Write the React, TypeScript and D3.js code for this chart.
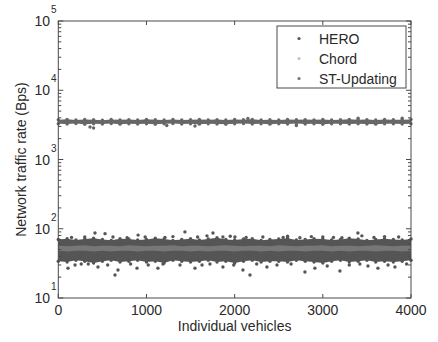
import React from "react";
import * as d3 from "d3";

// Vehicle ids at which the band envelopes are sampled
const vehicleIds = [
  0, 100, 200, 300, 400, 500, 600, 700, 800, 900, 1000, 1100, 1200, 1300, 1400,
  1500, 1600, 1700, 1800, 1900, 2000, 2100, 2200, 2300, 2400, 2500, 2600, 2700,
  2800, 2900, 3000, 3100, 3200, 3300, 3400, 3500, 3600, 3700, 3800, 3900, 4000,
];

// HERO: dense band envelope (Bps)
const heroHigh = [
  70, 72, 69, 71, 73, 70, 68, 72, 71, 69, 70, 73, 71, 68, 70, 72, 69, 71, 74, 70,
  69, 71, 72, 68, 70, 71, 73, 69, 70, 72, 71, 69, 70, 73, 71, 68, 70, 72, 70, 69, 71,
];
const heroLow = [
  34, 33, 35, 34, 32, 34, 35, 33, 34, 35, 33, 34, 32, 35, 34, 33, 34, 35, 33, 34,
  32, 34, 35, 33, 34, 34, 33, 35, 34, 33, 32, 34, 35, 33, 34, 35, 33, 34, 33, 34, 35,
];
// HERO: scattered vehicles outside the dense band [vehicle, Bps]
const heroOutliers: [number, number][] = [
  [416, 87], [530, 85], [905, 81], [985, 76], [110, 27], [190, 30], [450, 28],
  [643, 21.5], [677, 25.4], [893, 27], [1130, 27], [1187, 31], [1436, 90],
  [1686, 79], [1754, 87], [1867, 76], [2003, 76], [1550, 27], [1630, 30],
  [1867, 28], [2094, 25.4], [2174, 21.5], [2366, 28], [2480, 30], [3398, 87],
  [3443, 79], [2740, 74], [3217, 74], [2797, 23.7], [2910, 27], [3194, 24.5],
  [3512, 29], [3625, 27], [3818, 28], [300, 76], [1300, 77], [2600, 78],
  [3000, 76], [3700, 77], [260, 31], [1020, 30], [2250, 31], [3300, 30], [3950, 31],
  [150, 75], [620, 76], [780, 74], [1210, 75], [1580, 76], [1950, 78], [2130, 75],
  [2320, 76], [2550, 75], [2870, 77], [3120, 75], [3580, 75], [3860, 76],
  [340, 31], [560, 30], [820, 31], [1380, 30], [1720, 31], [1990, 30], [2640, 31],
  [3050, 29], [3420, 31], [3740, 30],
];

// Chord: dense band envelope (Bps)
const chordHigh = [
  57, 56, 57, 58, 56, 57, 57, 56, 58, 57, 56, 57, 57, 58, 56, 57, 57, 56, 57, 58,
  57, 56, 57, 57, 56, 58, 57, 56, 57, 57, 58, 56, 57, 57, 56, 57, 58, 57, 56, 57, 57,
];
const chordLow = [
  48, 47, 48, 48, 47, 48, 47, 48, 48, 47, 48, 48, 47, 48, 48, 47, 48, 47, 48, 48,
  47, 48, 48, 47, 48, 47, 48, 48, 47, 48, 48, 47, 48, 47, 48, 48, 47, 48, 48, 47, 48,
];

// ST-Updating: dense band envelope (Bps)
const stHigh = [
  3750, 3800, 3720, 3780, 3760, 3700, 3790, 3740, 3770, 3720, 3800, 3760, 3730,
  3780, 3710, 3760, 3790, 3740, 3770, 3720, 3780, 3750, 3800, 3730, 3760, 3720,
  3790, 3750, 3770, 3740, 3780, 3710, 3760, 3800, 3740, 3770, 3730, 3790, 3760,
  3740, 3780,
];
const stLow = [
  3280, 3250, 3300, 3220, 3270, 3260, 3300, 3240, 3280, 3250, 3290, 3230, 3270,
  3300, 3250, 3280, 3240, 3290, 3260, 3230, 3280, 3300, 3250, 3270, 3240, 3290,
  3260, 3300, 3250, 3280, 3230, 3270, 3290, 3250, 3280, 3260, 3240, 3290, 3270,
  3250, 3280,
];
const stOutliers: [number, number][] = [
  [400, 2850], [360, 2950], [1550, 3050], [2150, 3900], [3400, 3950],
  [1230, 3100], [2700, 3100], [3900, 3950],
];

const xTicks = [0, 1000, 2000, 3000, 4000];
const yDecades = [1, 2, 3, 4, 5];
const legendItems = ["HERO", "Chord", "ST-Updating"];

const W = 438;
const H = 342;
const left = 58.3;
const right = 411;
const top = 21;
const bottom = 298;

const COLORS = {
  hero: "#555555",
  chord: "#777777",
  st: "#676767",
  legendHero: "#555555",
  legendChord: "#c4c4c4",
  legendSt: "#777777",
  axis: "#4a4a4a",
  text: "#2a2a2a",
};

const FONT = "'Liberation Sans', Arial, Helvetica, sans-serif";

export default function App() {
  const x = d3.scaleLinear().domain([0, 4000]).range([left, right]);
  const y = d3.scaleLog().domain([10, 1e5]).range([bottom, top]);

  type Env = { v: number; lo: number; hi: number };
  const env = (lo: number[], hi: number[]): Env[] =>
    vehicleIds.map((v, i) => ({ v, lo: lo[i], hi: hi[i] }));

  const area = d3
    .area<Env>()
    .x((d) => x(d.v))
    .y0((d) => y(d.lo))
    .y1((d) => y(d.hi));

  const heroEnv = env(heroLow, heroHigh);
  const chordEnv = env(chordLow, chordHigh);
  const stEnv = env(stLow, stHigh);

  const minorTicks: number[] = [];
  for (let e = 1; e < 5; e++) {
    for (let m = 2; m <= 9; m++) minorTicks.push(m * Math.pow(10, e));
  }

  const r = 1.7;

  const edgeDots = (data: Env[], color: string, key: string) =>
    data.flatMap((d, i) => [
      <circle key={`${key}h${i}`} cx={x(d.v)} cy={y(d.hi)} r={r} fill={color} />,
      <circle key={`${key}l${i}`} cx={x(d.v)} cy={y(d.lo)} r={r} fill={color} />,
    ]);

  const legendColors = [COLORS.legendHero, COLORS.legendChord, COLORS.legendSt];

  return (
    <svg
      width={W}
      height={H}
      style={{ position: "absolute", left: 0, top: 0, background: "#fff" }}
      fontFamily={FONT}
    >
      <rect width={W} height={H} fill="#fff" />

      {/* ST-Updating band */}
      <path d={area(stEnv) || ""} fill={COLORS.st} />
      {edgeDots(stEnv, COLORS.st, "st")}
      {stOutliers.map(([v, b], i) => (
        <circle key={`sto${i}`} cx={x(v)} cy={y(b)} r={r} fill={COLORS.st} />
      ))}

      {/* HERO band */}
      <path d={area(heroEnv) || ""} fill={COLORS.hero} />
      {edgeDots(heroEnv, COLORS.hero, "he")}
      {heroOutliers.map(([v, b], i) => (
        <circle key={`heo${i}`} cx={x(v)} cy={y(b)} r={r} fill={COLORS.hero} />
      ))}

      {/* Chord band */}
      <path d={area(chordEnv) || ""} fill={COLORS.chord} />

      {/* frame */}
      <rect
        x={left}
        y={top}
        width={right - left}
        height={bottom - top}
        fill="none"
        stroke={COLORS.axis}
        strokeWidth={1}
      />

      {/* x ticks (bottom and top, inward) */}
      {xTicks.map((t) => (
        <g key={`xt${t}`}>
          <line x1={x(t)} x2={x(t)} y1={bottom} y2={bottom - 4} stroke={COLORS.axis} />
          <line x1={x(t)} x2={x(t)} y1={top} y2={top + 4} stroke={COLORS.axis} />
          <text
            x={x(t)}
            y={315}
            fontSize={14}
            textAnchor="middle"
            fill={COLORS.text}
          >
            {t}
          </text>
        </g>
      ))}

      {/* y ticks (left and right, inward) */}
      {yDecades.map((e) => {
        const yy = y(Math.pow(10, e));
        return (
          <g key={`yd${e}`}>
            <line x1={left} x2={left + 5} y1={yy} y2={yy} stroke={COLORS.axis} />
            <line x1={right} x2={right - 5} y1={yy} y2={yy} stroke={COLORS.axis} />
            <text x={50} y={yy + 5} fontSize={14} textAnchor="end" fill={COLORS.text}>
              10
            </text>
            <text x={51} y={yy - 8} fontSize={10} fill={COLORS.text}>
              {e}
            </text>
          </g>
        );
      })}
      {minorTicks.map((m) => (
        <g key={`ym${m}`}>
          <line x1={left} x2={left + 3} y1={y(m)} y2={y(m)} stroke={COLORS.axis} />
          <line x1={right} x2={right - 3} y1={y(m)} y2={y(m)} stroke={COLORS.axis} />
        </g>
      ))}

      {/* axis titles */}
      <text
        x={(left + right) / 2}
        y={331}
        fontSize={14}
        textAnchor="middle"
        fill={COLORS.text}
      >
        Individual vehicles
      </text>
      <text
        transform={`translate(26, ${(top + bottom) / 2}) rotate(-90)`}
        fontSize={14}
        textAnchor="middle"
        fill={COLORS.text}
      >
        Network traffic rate (Bps)
      </text>

      {/* legend */}
      <rect x={277} y={26} width={129} height={62} fill="#fff" stroke={COLORS.axis} />
      {legendItems.map((name, i) => (
        <g key={name}>
          <circle cx={299} cy={38.5 + i * 20} r={1.6} fill={legendColors[i]} />
          <text x={319} y={43.5 + i * 20} fontSize={14} fill={COLORS.text}>
            {name}
          </text>
        </g>
      ))}
    </svg>
  );
}
